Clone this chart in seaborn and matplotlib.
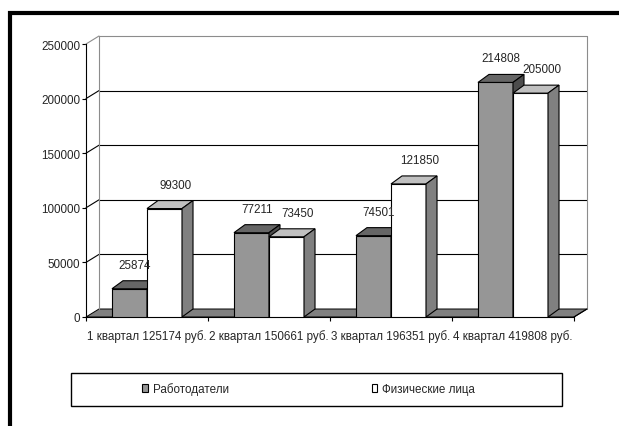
import matplotlib
matplotlib.use("Agg")
import matplotlib.pyplot as plt
import seaborn as sns
import pandas as pd
from matplotlib import font_manager
from matplotlib.patches import Polygon, Rectangle, Patch

# данные
quarters = ["1 квартал 125174 руб.", "2 квартал 150661 руб.",
            "3 квартал 196351 руб.", "4 квартал 419808 руб."]
employers = [25874, 77211, 74501, 214808]
individuals = [99300, 73450, 121850, 205000]
series_names = ["Работодатели", "Физические лица"]
y_ticks = [0, 50000, 100000, 150000, 200000, 250000]

W, H, DPI = 619, 427, 100
FRONT = ["#969696", "#ffffff"]
TOPS = ["#666666", "#c0c0c0"]
SIDES = ["#4d4d4d", "#808080"]
FLOOR = "#808080"
WALL_EDGE = "#8c8c8c"
WALL_D = (13, 8)   # глубина стенок, px
BAR_D = (11, 8)    # глубина столбиков, px

sns.set_theme(style="white")

# узкий шрифт, если есть
available = {f.name for f in font_manager.fontManager.ttflist}
font_choice = [("Liberation Sans Narrow", 9.5), ("DejaVu Sans Condensed", 8.6),
               ("Liberation Sans", 8.4)]
FAM, FS = "DejaVu Sans", 7.5
for fam, size in font_choice:
    if fam in available:
        FAM, FS = fam, size
        break
plt.rcParams["font.family"] = [FAM, "DejaVu Sans"]
plt.rcParams["font.size"] = FS
EM = FS * DPI / 72  # px

df = pd.DataFrame({
    "quarter": quarters * 2,
    "value": employers + individuals,
    "series": [series_names[0]] * len(quarters) + [series_names[1]] * len(quarters),
})

fig = plt.figure(figsize=(W / DPI, H / DPI), dpi=DPI)
ax = fig.add_axes([86 / W, 1 - 318 / H, (574 - 86) / W, (318 - 45) / H])

sns.barplot(data=df, x="quarter", y="value", hue="series", order=quarters,
            hue_order=series_names, palette=FRONT, width=0.574, gap=0,
            saturation=1, edgecolor="black", linewidth=0.8, legend=False,
            ax=ax, zorder=3)

xmin, xmax = -0.5, len(quarters) - 0.5
ax.set_xlim(xmin, xmax)
ax.set_ylim(0, y_ticks[-1])
ax.set_xlabel("")
ax.set_ylabel("")


def shift(x, y, d):
    px, py = ax.transData.transform((x, y))
    return tuple(ax.transData.inverted().transform((px + d[0], py + d[1])))


# пол
floor = [(xmin, 0), (xmax, 0), shift(xmax, 0, WALL_D), shift(xmin, 0, WALL_D)]
ax.add_patch(Polygon(floor, closed=True, facecolor=FLOOR, edgecolor="black",
                     linewidth=0.7, zorder=1, clip_on=False))

# задняя и боковая стенки
for t in y_ticks[1:]:
    col = "black" if t < y_ticks[-1] else WALL_EDGE
    bx0, by0 = shift(xmin, t, WALL_D)
    bx1, by1 = shift(xmax, t, WALL_D)
    ax.plot([bx0, bx1], [by0, by1], color=col, lw=0.8, clip_on=False, zorder=1)
    ax.plot([xmin, bx0], [t, by0], color=col, lw=0.8, clip_on=False, zorder=1)
for xe in (xmin, xmax):
    a = shift(xe, 0, WALL_D)
    b = shift(xe, y_ticks[-1], WALL_D)
    ax.plot([a[0], b[0]], [a[1], b[1]], color=WALL_EDGE, lw=0.8, clip_on=False, zorder=1)
a = shift(xmax, 0, WALL_D)
ax.plot([xmax, a[0]], [0, a[1]], color="black", lw=0.8, clip_on=False, zorder=2)

# объёмные грани столбиков и подписи
for k, container in enumerate(ax.containers):
    for bar in container:
        x0 = bar.get_x()
        x1 = x0 + bar.get_width()
        h = bar.get_height()
        top = [(x0, h), (x1, h), shift(x1, h, BAR_D), shift(x0, h, BAR_D)]
        side = [(x1, 0), (x1, h), shift(x1, h, BAR_D), shift(x1, 0, BAR_D)]
        for pts, c in ((top, TOPS[k]), (side, SIDES[k])):
            ax.add_patch(Polygon(pts, closed=True, facecolor=c, edgecolor="black",
                                 linewidth=0.8, zorder=3 + k, clip_on=False))
        bar.set_zorder(3 + k)
        ax.annotate(f"{int(h)}", xy=((x0 + x1) / 2, h),
                    xytext=(BAR_D[0] / 2 + 6 * k, 24), textcoords="offset pixels",
                    ha="center", va="center", fontsize=FS, zorder=6)

# оси
for s in ("top", "right"):
    ax.spines[s].set_visible(False)
for s in ("left", "bottom"):
    ax.spines[s].set_color("black")
    ax.spines[s].set_linewidth(0.8)
    ax.spines[s].set_zorder(2)
ax.set_yticks(y_ticks)
ax.set_yticklabels([str(t) for t in y_ticks])
ax.set_xticks(range(len(quarters)))
ax.set_xticklabels(quarters)
ax.set_xticks([i - 0.5 for i in range(len(quarters) + 1)], minor=True)
ax.tick_params(axis="y", which="major", left=True, direction="out", length=3,
               width=0.8, color="black", pad=1, labelsize=FS)
ax.tick_params(axis="x", which="major", bottom=True, length=0, pad=9, labelsize=FS)
ax.tick_params(axis="x", which="minor", bottom=True, direction="out", length=3,
               width=0.8, color="black")
ax.grid(False)

# рамка и легенда
fig.add_artist(Rectangle((10 / W, -0.1), 1.2, 1 - 14 / H + 0.1, transform=fig.transFigure,
                         fill=False, edgecolor="black", linewidth=3))
fig.add_artist(Rectangle((71 / W, 1 - 407 / H), (562 - 71) / W, 33 / H,
                         transform=fig.transFigure, fill=False, edgecolor="black",
                         linewidth=1))
handles = [Patch(facecolor=c, edgecolor="black", linewidth=0.8) for c in FRONT]
fig.legend(handles, series_names, loc="center left",
           bbox_to_anchor=(142 / W, 1 - 390 / H),
           ncol=2, frameon=False, handlelength=0.5, handleheight=0.7,
           handletextpad=0.4, columnspacing=143 / EM, fontsize=FS, borderpad=0,
           borderaxespad=0)

fig.savefig("out.png", dpi=DPI)
